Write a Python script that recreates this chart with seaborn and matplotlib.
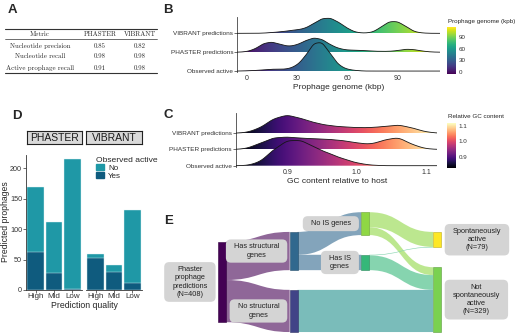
import numpy as np
import matplotlib
matplotlib.use('Agg')
import matplotlib.pyplot as plt
import seaborn as sns
from matplotlib.colors import Normalize, to_rgb
from matplotlib.lines import Line2D
from matplotlib.patches import Patch, Polygon, Rectangle, PathPatch, FancyBboxPatch
from matplotlib.path import Path
from matplotlib.transforms import IdentityTransform

# --- A: benchmark table ---
table_tools = ['PHASTER', 'VIBRANT']
metric_names = ['Nucleotide precision', 'Nucleotide recall', 'Active prophage recall']
phaster_scores = [0.85, 0.98, 0.91]
vibrant_scores = [0.82, 0.98, 0.98]

# --- B / C: ridge profiles (rows bottom -> top) ---
ridge_groups = ['Observed active', 'PHASTER predictions', 'VIBRANT predictions']

len_bins = [0, 5, 10, 15, 20, 25, 30, 35, 40, 45, 50, 55, 60, 65, 70, 75, 80, 85, 90, 95, 100, 105, 110]
len_observed = [0.2, 0.5, 1, 1.7, 1.5, 2, 5, 13, 25, 26, 15, 5, 1.5, 0.5, 0, 0, 0, 0, 0, 0, 0, 0, 0]
len_phaster = [0.5, 3, 8.5, 10, 7.5, 5.5, 7, 11, 14, 12.5, 7, 3.5, 2, 2, 1.5, 1, 0.8, 0.8, 1.5, 3, 2.5, 1, 0.2]
len_vibrant = [0, 0, 0.2, 0.8, 1.5, 2.5, 3.5, 5, 10, 15, 15.5, 11, 5, 1, 0.2, 1, 6, 12, 12, 7, 1.5, 0.3, 0]

gc_bins = [0.84, 0.86, 0.88, 0.90, 0.92, 0.94, 0.96, 0.98, 1.00, 1.02, 1.04, 1.06, 1.08, 1.10]
gc_observed = [0, 3, 15, 24, 24, 17, 11.5, 6.5, 2.5, 0.5, 0, 0, 0, 0]
gc_phaster = [0.5, 5, 10, 10.5, 9.5, 9, 8.5, 7.5, 5.5, 4.2, 8, 10.5, 4, 0.5]
gc_vibrant = [0.5, 5, 15, 19, 15, 10.5, 7.8, 6.5, 5.7, 5.7, 7, 8.7, 5.5, 1.2]

# --- D: predicted prophages by quality ---
quality = ['High', 'Mid', 'Low']
phaster_yes = [63, 28, 2]
phaster_no = [107, 84, 213]
vibrant_yes = [52, 30, 11]
vibrant_no = [7, 11, 121]

# --- E: sankey flows ---
e_nodes = ['Phaster prophage predictions', 'Has structural genes', 'No structural genes',
           'No IS genes', 'Has IS genes', 'Spontaneously active', 'Not spontaneously active']
e_stage = [0, 1, 1, 2, 2, 3, 3]
flow_src = ['Phaster prophage predictions', 'Phaster prophage predictions',
            'Has structural genes', 'Has structural genes',
            'No IS genes', 'No IS genes', 'Has IS genes', 'Has IS genes',
            'No structural genes']
flow_dst = ['Has structural genes', 'No structural genes',
            'No IS genes', 'Has IS genes',
            'Spontaneously active', 'Not spontaneously active',
            'Spontaneously active', 'Not spontaneously active',
            'Not spontaneously active']
flow_n = [194, 214, 116, 78, 76, 40, 3, 75, 214]

# ---------------------------------------------------------------
sns.set_theme(style='white')
plt.rcParams['font.family'] = ['Liberation Sans', 'DejaVu Sans']
TXT = '#333333'

W, H = 520, 335
fig = plt.figure(figsize=(W / 100, H / 100), dpi=100)


def fx(x):
    return x / W


def fy(y):
    return 1 - y / H


def px_axes(x0, y0, x1, y1):
    return fig.add_axes([fx(x0), fy(y1), (x1 - x0) / W, (y1 - y0) / H])


# panel letters
for letter, (lx, ly) in zip('ABCDE', [(8, 4), (163, 4), (163, 109), (12, 110), (164, 215)]):
    fig.text(fx(lx), fy(ly), letter, fontsize=9.5, fontweight='bold', va='top', ha='left')

# ---------------- A: table ----------------
serif = ['cmr10', 'Liberation Serif', 'DejaVu Serif']
col_x = [40, 100, 140]
for yy, lw in [(29.3, 0.8), (39, 0.5), (72.7, 0.8)]:
    fig.add_artist(Line2D([fx(5), fx(157)], [fy(yy)] * 2, lw=lw, color='#333333'))
for txt, cx in zip(['Metric'] + table_tools, col_x):
    fig.text(fx(cx), fy(34.2), txt, ha='center', va='center', fontsize=4.9, family=serif)
for i, row_y in enumerate([45.7, 56.3, 67.7]):
    cells = [metric_names[i], f'{phaster_scores[i]:.2f}', f'{vibrant_scores[i]:.2f}']
    for txt, cx in zip(cells, col_x):
        fig.text(fx(cx), fy(row_y), txt, ha='center', va='center', fontsize=4.9, family=serif)


# ---------------- B / C: ridgelines ----------------
def ridge_panel(box, bins, profiles, bw, lims, top, cmap, peak, ticks, ticklabels, xlabel):
    ax = px_axes(*box)
    curves = []
    for w in profiles:
        factor = bw / np.sqrt(np.cov(bins, aweights=w))
        sns.kdeplot(x=bins, weights=w, bw_method=factor, cut=60, clip=lims,
                    gridsize=600, ax=ax)
        line = ax.lines[-1]
        curves.append(np.array(line.get_xydata()))
        line.remove()
    scale = peak / max(c[:, 1].max() for c in curves)
    norm = Normalize(*lims)
    grad = np.linspace(lims[0], lims[1], 512)[None, :]
    for row in range(len(curves) - 1, -1, -1):
        xs = curves[row][:, 0]
        ys = row + curves[row][:, 1] * scale
        z = 10 - 2 * row
        verts = np.column_stack([np.r_[xs[0], xs, xs[-1]], np.r_[row, ys, row]])
        clip = Polygon(verts, closed=True, transform=ax.transData)
        im = ax.imshow(grad, extent=(lims[0], lims[1], row, row + peak + 0.3), cmap=cmap,
                       norm=norm, aspect='auto', origin='lower', zorder=z,
                       interpolation='bilinear')
        im.set_clip_path(clip)
        ax.plot(xs, ys, color='#151515', lw=0.6, zorder=z + 1)
    ax.set_xlim(lims)
    ax.set_ylim(-0.05, top)
    ax.set_yticks(range(len(ridge_groups)))
    ax.set_yticklabels(ridge_groups)
    ax.set_xticks(ticks)
    ax.set_xticklabels(ticklabels)
    ax.tick_params(axis='y', labelsize=4.6, length=2, width=0.5, pad=1, colors=TXT, left=True)
    ax.tick_params(axis='x', labelsize=5, length=0, pad=2, colors=TXT)
    for s in ['top', 'right', 'bottom']:
        ax.spines[s].set_visible(False)
    ax.spines['left'].set_color('#444444')
    ax.spines['left'].set_linewidth(0.6)
    ax.set_ylabel('')
    ax.set_xlabel(xlabel, fontsize=6, labelpad=1.5)
    ax.set_facecolor('none')
    return ax, norm


len_lims = (-5.6, 115.3)
axB, normB = ridge_panel((237.3, 17.3, 440, 72), len_bins, [len_observed, len_phaster, len_vibrant],
                         2.8, len_lims, 2.85, 'viridis', 1.5, [0, 30, 60, 90],
                         ['0', '30', '60', '90'], 'Prophage genome (kbp)')
gc_lims = (0.826, 1.116)
axC, normC = ridge_panel((236, 113.3, 437.3, 166.5), gc_bins, [gc_observed, gc_phaster, gc_vibrant],
                         0.011, gc_lims, 3.23, 'magma', 1.55, [0.9, 1.0, 1.1],
                         ['0.9', '1.0', '1.1'], 'GC content relative to host')

for (box, norm, cmap, ticks, title, ty) in [
        ((447, 27.3, 456, 74), normB, 'viridis', [0, 30, 60, 90], 'Prophage genome (kpb)', 21.7),
        ((447, 123.3, 456, 168.3), normC, 'magma', [0.9, 1.0, 1.1], 'Relative GC content', 116.7)]:
    cax = px_axes(*box)
    cb = fig.colorbar(plt.cm.ScalarMappable(norm=norm, cmap=cmap), cax=cax, ticks=ticks)
    cb.outline.set_visible(False)
    cax.tick_params(labelsize=4.5, length=1.5, width=0.5, color='white', direction='in',
                    pad=2, labelcolor=TXT)
    fig.text(fx(box[0] + 1), fy(ty), title, fontsize=4.5, va='center', ha='left')

# ---------------- D: stacked bars ----------------
col_no, col_yes = '#1F98A6', '#0F5B7E'
axP = px_axes(26, 155, 82, 290)
axV = px_axes(86, 155, 142, 290)
for ax, no, yes, tool, (sx0, sx1) in [(axP, phaster_no, phaster_yes, 'PHASTER', (26.7, 81.7)),
                                      (axV, vibrant_no, vibrant_yes, 'VIBRANT', (86, 141.7))]:
    total = np.array(no) + np.array(yes)
    sns.barplot(x=quality, y=total, color=col_no, width=0.9, saturation=1,
                edgecolor='#dff3f5', linewidth=0.3, ax=ax)
    sns.barplot(x=quality, y=yes, color=col_yes, width=0.9, saturation=1,
                edgecolor='#dff3f5', linewidth=0.3, ax=ax)
    ax.set_xlim(-0.52, 2.52)
    ax.set_ylim(0, 222)
    ax.set_xlabel('')
    ax.set_ylabel('')
    ax.set_facecolor('none')
    for s in ['top', 'right']:
        ax.spines[s].set_visible(False)
    for s in ['left', 'bottom']:
        ax.spines[s].set_color('#333333')
        ax.spines[s].set_linewidth(0.6)
    ax.tick_params(axis='x', bottom=True, length=2, width=0.5, labelsize=5.8, pad=0.5,
                   colors=TXT)
    ax.tick_params(axis='y', left=True, length=2, width=0.5, labelsize=5.2, pad=0.8,
                   colors=TXT)
    ax.set_yticks([0, 50, 100, 150, 200])
    strip = px_axes(sx0, 130.7, sx1, 144)
    strip.set_facecolor('#d9d9d9')
    strip.set_xticks([])
    strip.set_yticks([])
    for s in strip.spines.values():
        s.set_visible(True)
        s.set_color('#222222')
        s.set_linewidth(0.8)
    strip.text(0.5, 0.45, tool, ha='center', va='center', fontsize=7.5,
               transform=strip.transAxes, color='#1a1a1a')
axV.spines['left'].set_visible(False)
axV.tick_params(axis='y', left=False, labelleft=False)

fig.legend(handles=[Patch(color=col_no, label='No'), Patch(color=col_yes, label='Yes')],
           title='Observed active', loc='upper left', bbox_to_anchor=(fx(96), fy(157)),
           frameon=False, fontsize=5.8, title_fontsize=6.1, handlelength=1.0,
           handleheight=0.85, labelspacing=0.0, handletextpad=0.5, borderpad=0,
           alignment='left', borderaxespad=0)
fig.text(fx(5.5), fy(222), 'Predicted prophages', rotation=90, ha='center', va='center',
         fontsize=6.2)
fig.text(fx(84), fy(305), 'Prediction quality', ha='center', va='center', fontsize=6.3)

# ---------------- E: sankey ----------------
node_colors = {'Phaster prophage predictions': '#440154', 'Has structural genes': '#31688E',
               'No structural genes': '#414487', 'No IS genes': '#8FD744',
               'Has IS genes': '#35B779', 'Spontaneously active': '#FDE725',
               'Not spontaneously active': '#7AD151'}
pass_color = '#21908C'
node_labels = {'Phaster prophage predictions': 'Phaster\nprophage\npredictions\n(N={})',
               'Has structural genes': 'Has structural\ngenes',
               'No structural genes': 'No structural\ngenes',
               'No IS genes': 'No IS genes',
               'Has IS genes': 'Has IS\ngenes',
               'Spontaneously active': 'Spontaneously\nactive\n(N={})',
               'Not spontaneously active': 'Not\nspontaneously\nactive\n(N={})'}

gap = 100          # vertical spacing between nodes, in prophage counts
nw = 0.11          # node width, in stage units
stage = dict(zip(e_nodes, e_stage))
size = {n: max(sum(v for s, v in zip(flow_src, flow_n) if s == n),
               sum(v for d, v in zip(flow_dst, flow_n) if d == n)) for n in e_nodes}
slots = {s: [(n, size[n]) for n in e_nodes if stage[n] == s] for s in range(4)}
for src, dst, n in zip(flow_src, flow_dst, flow_n):
    if stage[dst] - stage[src] == 2:
        slots[stage[src] + 1].append(('pass:' + src, n))
totals = {s: sum(v for _, v in sl) + gap * (len(sl) - 1) for s, sl in slots.items()}
bottom = totals[1]
top_of = {}
for s, sl in slots.items():
    y = (bottom - totals[s]) / 2 if s == 0 else bottom - totals[s]
    for name, v in sl:
        top_of[name] = y
        y += v + gap

axE = px_axes(153, 200, 515, 335)
axE.set_xlim(-(218 - 153) / 71.67, (515 - 218) / 71.67)
axE.set_ylim(bottom + 15, -gap - 62)
axE.axis('off')


def soft(color, alpha=0.6):
    # flow colour: node colour washed onto white (opaque, so joins show no seams)
    return tuple(np.array(to_rgb(color)) * alpha + (1 - alpha))


def band_path(pts):
    # pts: list of (x0, x1, a0, b0, a1, b1) segments chained left to right
    top, bot = [], []
    for i, (x0, x1, a0, b0, a1, b1) in enumerate(pts):
        xm = (x0 + x1) / 2
        if i == 0:
            top.append(((x0, a0), Path.MOVETO))
        else:
            top.append(((x0, a0), Path.LINETO))
        top += [((xm, a0), Path.CURVE4), ((xm, a1), Path.CURVE4), ((x1, a1), Path.CURVE4)]
        bot = [((x1, b1), Path.LINETO), ((xm, b1), Path.CURVE4), ((xm, b0), Path.CURVE4),
               ((x0, b0), Path.CURVE4)] + bot
    verts = top + bot + [((pts[0][0], pts[0][2]), Path.CLOSEPOLY)]
    return Path([v for v, _ in verts], [c for _, c in verts])


out_cur = dict(top_of)
in_cur = dict(top_of)
for src, dst, n in zip(flow_src, flow_dst, flow_n):
    s0, s1 = stage[src], stage[dst]
    a0 = out_cur[src]
    out_cur[src] += n
    a1 = in_cur[dst]
    in_cur[dst] += n
    if s1 - s0 == 2:
        m = top_of['pass:' + src]
        segs = [(s0 + nw, s0 + 1, a0, a0 + n, m, m + n),
                (s0 + 1, s0 + 1 + nw, m, m + n, m, m + n),
                (s0 + 1 + nw, s1, m, m + n, a1, a1 + n)]
        color = soft(pass_color)
    else:
        segs = [(s0 + nw, s1, a0, a0 + n, a1, a1 + n)]
        color = soft(node_colors[src])
    axE.add_patch(PathPatch(band_path(segs), fc=color, ec='none', zorder=1))

renderer = fig.canvas.get_renderer()
for n in e_nodes:
    s = stage[n]
    c = np.array(to_rgb(node_colors[n]))
    axE.add_patch(Rectangle((s, top_of[n]), nw, size[n], fc=node_colors[n], ec=c * 0.75,
                            lw=0.4, zorder=3))
    label = node_labels[n].format(size[n])
    if s < 3:
        t = axE.annotate(label, xy=(s, top_of[n] + size[n] / 2), xytext=(-7.5, 0),
                         textcoords='offset points', ha='right', va='center',
                         multialignment='center', fontsize=5.3, linespacing=1.25,
                         color='#222222', zorder=6)
    else:
        t = axE.annotate(label, xy=(s + nw, top_of[n] + size[n] / 2), xytext=(8.5, 0),
                         textcoords='offset points', ha='left', va='center',
                         multialignment='center', fontsize=5.3, linespacing=1.25,
                         color='#222222', zorder=6)
    bb = t.get_window_extent(renderer)
    padx, pady = 8, 4
    axE.add_patch(FancyBboxPatch((bb.x0 - padx, bb.y0 - pady), bb.width + 2 * padx,
                                 bb.height + 2 * pady, boxstyle='round,pad=0,rounding_size=5',
                                 transform=IdentityTransform(), fc='#d4d4d4', ec='none',
                                 zorder=5, clip_on=False))

fig.savefig('out.png', dpi=100, facecolor='white')
